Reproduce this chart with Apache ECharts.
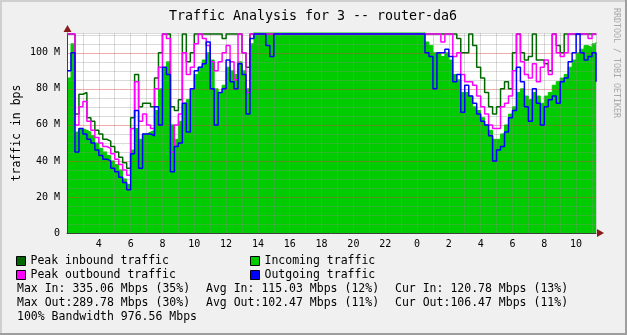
<!DOCTYPE html>
<html>
<head>
<meta charset="utf-8">
<script src="https://cdn.jsdelivr.net/npm/echarts@6/dist/echarts.min.js"></script>
<style>
html,body{margin:0;padding:0;background:#F0F0F0;}
#chart{width:627px;height:335px;}
</style>
</head>
<body>
<div id="chart"></div>
<script>
// ---- data (Mbps, one value per 15 minutes starting 02:00) ----
const startHour = 2;
const stepHours = 0.25;
const xTickLabels = ['4','6','8','10','12','14','16','18','20','22','0','2','4','6','8','10'];
const yTickLabels = ['0','20 M','40 M','60 M','80 M','100 M'];

const incoming = [
 86,105,56,58,57,56,54,50,47,45,
 43,40,38,35,30,27,46,58,52,55,
 56,57,68,80,92,95,60,52,62,72,
 74,80,88,92,96,100,96,80,78,82,
 92,90,88,95,90,80,105,112,112,112,
 112,112,112,112,112,112,112,112,112,112,
 112,112,112,112,112,112,112,112,112,112,
 112,112,112,112,112,112,112,112,112,112,
 112,112,112,112,112,112,112,112,112,112,
 106,104,100,100,98,100,96,88,85,78,
 78,76,70,68,64,60,57,52,52,55,
 60,66,70,78,80,76,74,78,76,72,
 76,78,82,84,86,88,92,96,100,102,
 104,103,105,106
];
const peakInbound = [
 110.5,110.5,66,77,78,64,62,57,55,52,
 51,48,45,42,39,36,64,88,70,72,
 72,70,86,100,110.5,110.5,70,68,74,110.5,
 95,100,110.5,110.5,110.5,110.5,110.5,110.5,110.5,108,
 110.5,110.5,110.5,110.5,100,92,110.5,110.5,110.5,110.5,
 110.5,110.5,110.5,110.5,110.5,110.5,110.5,110.5,110.5,110.5,
 110.5,110.5,110.5,110.5,110.5,110.5,110.5,110.5,110.5,110.5,
 110.5,110.5,110.5,110.5,110.5,110.5,110.5,110.5,110.5,110.5,
 110.5,110.5,110.5,110.5,110.5,110.5,110.5,110.5,110.5,110.5,
 110.5,110.5,110.5,110.5,110.5,110.5,110.5,110.5,108,100,
 100,110.5,104,92,86,78,70,66,70,80,
 84,80,100,110.5,100,96,98,110.5,96,96,
 94,90,110.5,104,100,110.5,110.5,110.5,110.5,110.5,
 110.5,110.5,110.5,110.5
];
const peakOutbound = [
 110.5,110.5,60,70,73,62,57,53,50,48,
 47,44,41,38,35,32,58,84,62,66,
 60,58,80,92,110.5,108,45,60,66,100,
 88,92,105,110.5,108,104,95,90,95,100,
 104,95,85,110.5,100,78,110.5,110.5,110.5,110.5,
 110.5,110.5,110.5,110.5,110.5,110.5,110.5,110.5,110.5,110.5,
 110.5,110.5,110.5,110.5,110.5,110.5,110.5,110.5,110.5,110.5,
 110.5,110.5,110.5,110.5,110.5,110.5,110.5,110.5,110.5,110.5,
 110.5,110.5,110.5,110.5,110.5,110.5,110.5,110.5,110.5,110.5,
 110.5,110.5,110.5,110.5,106,110.5,110.5,98,100,88,
 84,84,82,76,70,66,60,58,58,70,
 72,76,90,110.5,95,88,86,94,84,92,
 96,88,110.5,100,98,100,110.5,110.5,110.5,110.5,
 110.5,108,110.5,110
];
const outgoing = [
 90,100,45,58,55,52,50,46,43,41,
 40,36,34,31,28,24,44,68,36,55,
 55,54,70,60,92,88,34,48,50,72,
 56,80,90,92,94,106,80,60,78,80,
 96,84,80,94,88,66,108,110.5,110.5,110.5,
 104,98,110.5,110.5,110.5,110.5,110.5,110.5,110.5,110.5,
 110.5,110.5,110.5,110.5,110.5,110.5,110.5,110.5,110.5,110.5,
 110.5,110.5,110.5,110.5,110.5,110.5,110.5,110.5,110.5,110.5,
 110.5,110.5,110.5,110.5,110.5,110.5,110.5,110.5,110.5,110.5,
 100,98,80,100,100,102,98,84,88,67,
 82,76,72,66,62,60,54,40,46,48,
 56,64,68,92,84,70,62,80,72,60,
 70,74,76,72,84,86,95,100,110.5,100,
 96,98,100,84
];
const statsRows = [
 ['Max In: 335.06 Mbps (35%)', 'Avg In: 115.03 Mbps (12%)', 'Cur In: 120.78 Mbps (13%)'],
 ['Max Out:289.78 Mbps (30%)', 'Avg Out:102.47 Mbps (11%)', 'Cur Out:106.47 Mbps (11%)'],
 ['100% Bandwidth 976.56 Mbps']
];

// ---- build ----
const MONO = 'DejaVu Sans Mono';
function pairs(arr){ return arr.map((v,i)=>[startHour + i*stepHours, v]); }
const xMax = startHour + (incoming.length-1)*stepHours;

const chart = echarts.init(document.getElementById('chart'), null, {renderer:'canvas'});

const graphics = [
 {type:'rect', shape:{x:0,y:0,width:627,height:2}, style:{fill:'#CFCFCF'}},
 {type:'rect', shape:{x:0,y:0,width:2,height:335}, style:{fill:'#CFCFCF'}},
 {type:'rect', shape:{x:625,y:0,width:2,height:335}, style:{fill:'#9E9E9E'}},
 {type:'rect', shape:{x:0,y:333,width:627,height:2}, style:{fill:'#9E9E9E'}},
 {type:'text', x:313, y:17, style:{text:'Traffic Analysis for 3 -- router-da6', fontFamily:MONO, fontSize:13.3, fill:'#000', textAlign:'center', textVerticalAlign:'middle', align:'center', verticalAlign:'middle'}},
 {type:'text', x:17, y:133, rotation:Math.PI/2, style:{text:'traffic in bps', fontFamily:MONO, fontSize:11.5, fill:'#000', textAlign:'center', textVerticalAlign:'middle', align:'center', verticalAlign:'middle'}},
 {type:'text', x:616, y:63, rotation:-Math.PI/2, style:{text:'RRDTOOL / TOBI OETIKER', fontFamily:MONO, fontSize:8.3, fill:'#A8A8A8', textAlign:'center', textVerticalAlign:'middle', align:'center', verticalAlign:'middle'}},
 {type:'polygon', shape:{points:[[63.5,32],[67.5,25],[71.5,32]]}, style:{fill:'#8B1A1A'}, z:10},
 {type:'polygon', shape:{points:[[597,229],[604,233],[597,237]]}, style:{fill:'#8B1A1A'}, z:10}
];
const colX = [17, 206, 395];
const rowY = [289, 303, 317];
statsRows.forEach((row, r) => {
  row.forEach((t, c) => {
    graphics.push({type:'text', x:colX[c], y:rowY[r], style:{text:t, fontFamily:MONO, fontSize:11.5, fill:'#000', textAlign:'left', textVerticalAlign:'middle', align:'left', verticalAlign:'middle'}});
  });
});

const legendText = {fontFamily:MONO, fontSize:11.5, color:'#000', lineHeight:14};
const lineCommon = {type:'line', step:'end', symbol:'none', showSymbol:false, animation:false, clip:true};

chart.setOption({
  animation:false,
  backgroundColor:'#F0F0F0',
  grid:{left:67, top:33, width:529, height:200, show:true, backgroundColor:'#FFFFFF', borderWidth:0},
  legend:[
    {left:16, top:254, orient:'vertical', padding:0, itemGap:0, itemWidth:9, itemHeight:9, icon:'rect', selectedMode:false,
     itemStyle:{borderColor:'#000', borderWidth:1}, textStyle:legendText,
     data:['Peak inbound traffic','Peak outbound traffic']},
    {left:250, top:254, orient:'vertical', padding:0, itemGap:0, itemWidth:9, itemHeight:9, icon:'rect', selectedMode:false,
     itemStyle:{borderColor:'#000', borderWidth:1}, textStyle:legendText,
     data:['Incoming traffic','Outgoing traffic']}
  ],
  xAxis:{
    type:'value', min:startHour, max:xMax, interval:1, z:3,
    axisLine:{show:true, onZero:false, lineStyle:{color:'#404040', width:1}},
    axisTick:{show:false},
    axisLabel:{margin:6, fontFamily:MONO, fontSize:10, color:'#000',
      formatter:(v)=>{ if (Math.abs(v-Math.round(v))>1e-6) return ''; const h=Math.round(v); if (h%2!==0 || h<=startHour) return ''; const lbl=String(h%24); return xTickLabels.indexOf(lbl)>=0 ? lbl : ''; }},
    splitLine:{show:true, lineStyle:{color:'rgba(140,140,140,0.32)', width:1}}
  },
  yAxis:{
    type:'value', min:0, max:111, interval:5, z:3,
    axisLine:{show:true, lineStyle:{color:'#404040', width:1}},
    axisTick:{show:false},
    axisLabel:{margin:7, fontFamily:MONO, fontSize:10, color:'#000',
      formatter:(v)=>{ if (v%20!==0) return ''; const idx=v/20; return yTickLabels[idx]!==undefined ? yTickLabels[idx] : ''; }},
    splitLine:{show:true, lineStyle:{color:['rgba(220,60,60,0.42)','rgba(140,140,140,0.32)','rgba(140,140,140,0.32)','rgba(140,140,140,0.32)'], width:1}}
  },
  graphic:graphics,
  series:[
    Object.assign({}, lineCommon, {name:'Incoming traffic', data:pairs(incoming), z:1,
      itemStyle:{color:'#00CC00'}, lineStyle:{color:'#00CC00', width:1}, areaStyle:{color:'#00CC00', opacity:1}}),
    Object.assign({}, lineCommon, {name:'Peak inbound traffic', data:pairs(peakInbound), z:4,
      itemStyle:{color:'#006600'}, lineStyle:{color:'#006600', width:1.5}}),
    Object.assign({}, lineCommon, {name:'Peak outbound traffic', data:pairs(peakOutbound), z:4,
      itemStyle:{color:'#FF00FF'}, lineStyle:{color:'#FF00FF', width:1.5}}),
    Object.assign({}, lineCommon, {name:'Outgoing traffic', data:pairs(outgoing), z:4,
      itemStyle:{color:'#0000FF'}, lineStyle:{color:'#0000FF', width:1.5}})
  ]
});
</script>
</body>
</html>
